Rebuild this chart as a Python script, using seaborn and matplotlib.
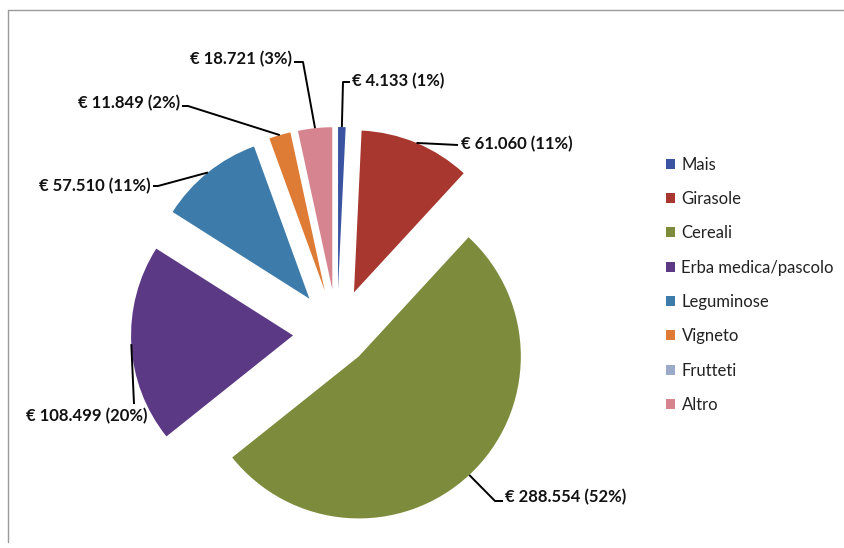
import numpy as np
import pandas as pd
import seaborn as sns
import matplotlib.pyplot as plt
from matplotlib.patches import Patch

# data
categories = ["Mais", "Girasole", "Cereali", "Erba medica/pascolo",
              "Leguminose", "Vigneto", "Frutteti", "Altro"]
values = [4133, 61060, 288554, 108499, 57510, 11849, 0, 18721]
percents = [1, 11, 52, 20, 11, 2, 0, 3]
colors = ["#3B54A2", "#A8382F", "#7D8B3C", "#5B3985",
          "#3D7BAA", "#DE7B35", "#9CAACA", "#D6848F"]

df = pd.DataFrame({"coltura": categories, "valore": values, "pct": percents})

sns.set_theme(style="white")
plt.rcParams["font.family"] = ["Lato", "DejaVu Sans"]

W, H = 845, 548
fig = plt.figure(figsize=(W / 100, H / 100), dpi=100)
ax = fig.add_axes([0, 0, 1, 1])

# pie geometry in pixel units (y measured from top, flipped below)
cx, cy, R = 337, 333, 162
explode = [44, 44, 32, 44, 44, 44, 44, 44]   # px, matplotlib uses data units

wedges, _ = ax.pie(df["valore"], colors=colors, startangle=90, counterclock=False,
                   radius=R, center=(cx, H - cy), explode=explode,
                   wedgeprops=dict(linewidth=0))
ax.set_xlim(0, W)
ax.set_ylim(0, H)
ax.set_aspect("equal")
ax.axis("off")

# label text placement + leader elbow (pixel coords from top)
label_layout = {
    "Mais":                dict(elbow=[(343, 82), (350, 82)], txt=(352, 81), ha="left"),
    "Girasole":            dict(elbow=[(458, 145)], txt=(461, 144), ha="left"),
    "Cereali":             dict(elbow=[(495, 501), (503, 501)], txt=(505, 497), ha="left"),
    "Erba medica/pascolo": dict(elbow=[(134, 404)], txt=(148, 416), ha="right"),
    "Leguminose":          dict(elbow=[(158, 186), (153, 186)], txt=(151, 186), ha="right"),
    "Vigneto":             dict(elbow=[(188, 106), (182, 106)], txt=(180, 103), ha="right"),
    "Altro":               dict(elbow=[(303, 62), (294, 62)], txt=(292, 59), ha="right"),
}

for w, row in zip(wedges, df.itertuples()):
    if row.valore == 0:
        continue
    mid = np.deg2rad((w.theta1 + w.theta2) / 2)
    ax_x = w.center[0] + w.r * np.cos(mid)
    ax_y = w.center[1] + w.r * np.sin(mid)
    lay = label_layout[row.coltura]
    xs = [ax_x] + [p[0] for p in lay["elbow"]]
    ys = [ax_y] + [H - p[1] for p in lay["elbow"]]
    ax.plot(xs, ys, color="black", lw=1.4, solid_capstyle="butt")
    txt = "€ {} ({}%)".format(f"{row.valore:,}".replace(",", "."), row.pct)
    ax.text(lay["txt"][0], H - lay["txt"][1], txt, ha=lay["ha"], va="center",
            fontsize=12, fontweight="bold", color="#111111")

# legend
handles = [Patch(facecolor=c, edgecolor="none") for c in colors]
fig.legend(handles, categories, loc="upper left", bbox_to_anchor=(659 / W, 1 - 150 / H),
           frameon=False, fontsize=12, handlelength=0.55, handleheight=0.55,
           handletextpad=0.4, labelspacing=1.1, borderaxespad=0, labelcolor="#222222")

# chart border (top + left)
ax.plot([8, W], [H - 10, H - 10], color="#9a9a9a", lw=1)
ax.plot([8, 8], [H - 10, H - 542], color="#9a9a9a", lw=1)

fig.savefig("out.png", dpi=100)
